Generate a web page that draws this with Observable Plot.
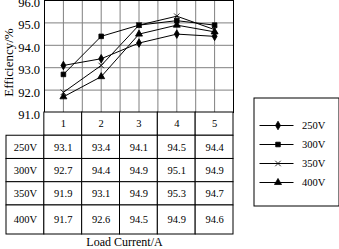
<!DOCTYPE html>
<html><head><meta charset="utf-8">
<script src="https://cdn.jsdelivr.net/npm/d3@7"></script>
<script src="https://cdn.jsdelivr.net/npm/@observablehq/plot@0.6"></script>
<style>
body{margin:0;background:#fff;}
#root{position:relative;width:339px;height:249px;overflow:hidden;background:#fff;font-family:"Liberation Serif",serif;}
#root > *{position:absolute;}
</style></head><body><div id="root"></div>
<script>
const currents = [1, 2, 3, 4, 5];
const series = ["250V", "300V", "350V", "400V"];
const eff250 = [93.1, 93.4, 94.1, 94.5, 94.4];
const eff300 = [92.7, 94.4, 94.9, 95.1, 94.9];
const eff350 = [91.9, 93.1, 94.9, 95.3, 94.7];
const eff400 = [91.7, 92.6, 94.5, 94.9, 94.6];
const yTicks = [91, 92, 93, 94, 95, 96];
const xGridTicks = [0.5, 1, 1.5, 2, 2.5, 3, 3.5, 4, 4.5, 5, 5.5];
const xAxisLabel = "Load Current/A";
const yAxisLabel = "Efficiency/%";
const symbols = ["diamond", "square", "times", "triangle"];

const values = [eff250, eff300, eff350, eff400];
const data = series.flatMap((s, i) => currents.map((c, j) => ({series: s, current: c, eff: values[i][j]})));
const baseStyle = "font-family:'Liberation Serif',serif;overflow:visible;color:black;";
const root = document.getElementById("root");

// Chart
const chart = Plot.plot({
  width: 339, height: 112, marginLeft: 44, marginRight: 106, marginTop: 0, marginBottom: 0,
  style: baseStyle + "font-size:12.5px;background:transparent;",
  x: {domain: [0.5, 5.5], axis: null},
  y: {domain: [91, 96], axis: null},
  symbol: {domain: series, range: symbols},
  marks: [
    Plot.gridY(yTicks, {stroke: "#808080", strokeOpacity: 1}),
    Plot.gridX(xGridTicks, {stroke: "#808080", strokeOpacity: 1}),
    Plot.frame({stroke: "black"}),
    Plot.axisY(yTicks, {tickSize: 0, tickPadding: 4.5, tickFormat: d => d.toFixed(1), dy: 2.5, label: null, fontSize: 12.5}),
    Plot.line(data, {x: "current", y: "eff", z: "series", stroke: "black", strokeWidth: 1}),
    Plot.dot(data, {x: "current", y: "eff", symbol: "series", fill: "black", stroke: "black", strokeWidth: 0.8, r: 2.6}),
    Plot.text([yAxisLabel], {frameAnchor: "left", textAnchor: "middle", lineAnchor: "middle", rotate: -90, dx: -36, dy: 6, fontSize: 13})
  ]
});
chart.style.left = "0px"; chart.style.top = "0px";
root.appendChild(chart);

// Table
const lastRow = series.length;
const tableBottom = lastRow + 1.25;
const cells = [];
currents.forEach(c => cells.push({x1: c - 0.5, x2: c + 0.5, y1: 0, y2: 1, label: String(c)}));
series.forEach((s, i) => {
  const r = i + 1;
  const y2 = r === lastRow ? tableBottom : r + 1;
  cells.push({x1: -0.5, x2: 0.5, y1: r, y2, label: s});
  currents.forEach((c, j) => cells.push({x1: c - 0.5, x2: c + 0.5, y1: r, y2, label: values[i][j].toFixed(1)}));
});
const table = Plot.plot({
  width: 339, height: 137, marginLeft: 6, marginRight: 106, marginTop: 0, marginBottom: 15,
  style: baseStyle + "font-size:10.5px;background:transparent;",
  x: {domain: [-0.5, 5.5], axis: null},
  y: {domain: [0, tableBottom], reverse: true, axis: null},
  marks: [
    Plot.rect(cells, {x1: "x1", x2: "x2", y1: "y1", y2: "y2", fill: "white", stroke: "black", strokeWidth: 1}),
    Plot.text(cells, {x: d => (d.x1 + d.x2) / 2, y: d => (d.y1 + d.y2) / 2, text: "label", fill: "black", fontSize: 10.5}),
    Plot.text([xAxisLabel], {frameAnchor: "bottom", lineAnchor: "middle", textAnchor: "middle", dx: 4.5, dy: 8, fontSize: 12, fill: "black"})
  ]
});
table.style.left = "0px"; table.style.top = "112px";
root.appendChild(table);

// Legend
const legend = Plot.plot({
  width: 86, height: 109, marginLeft: 0.5, marginRight: 0.5, marginTop: 0.5, marginBottom: 0.5,
  style: baseStyle + "font-size:10.5px;background:white;",
  x: {domain: [0, 85], axis: null},
  y: {type: "point", domain: series, range: [18, 94], axis: null},
  symbol: {domain: series, range: symbols},
  marks: [
    Plot.frame({stroke: "black"}),
    Plot.ruleY(series, {y: d => d, x1: 6, x2: 40, stroke: "black", strokeWidth: 1}),
    Plot.dot(series, {x: 24, y: d => d, symbol: d => d, fill: "black", stroke: "black", strokeWidth: 0.8, r: 2.6}),
    Plot.text(series, {x: 48, y: d => d, text: d => d, textAnchor: "start", fill: "black", fontSize: 10.5})
  ]
});
legend.style.left = "253px"; legend.style.top = "97px";
root.appendChild(legend);
</script></body></html>
